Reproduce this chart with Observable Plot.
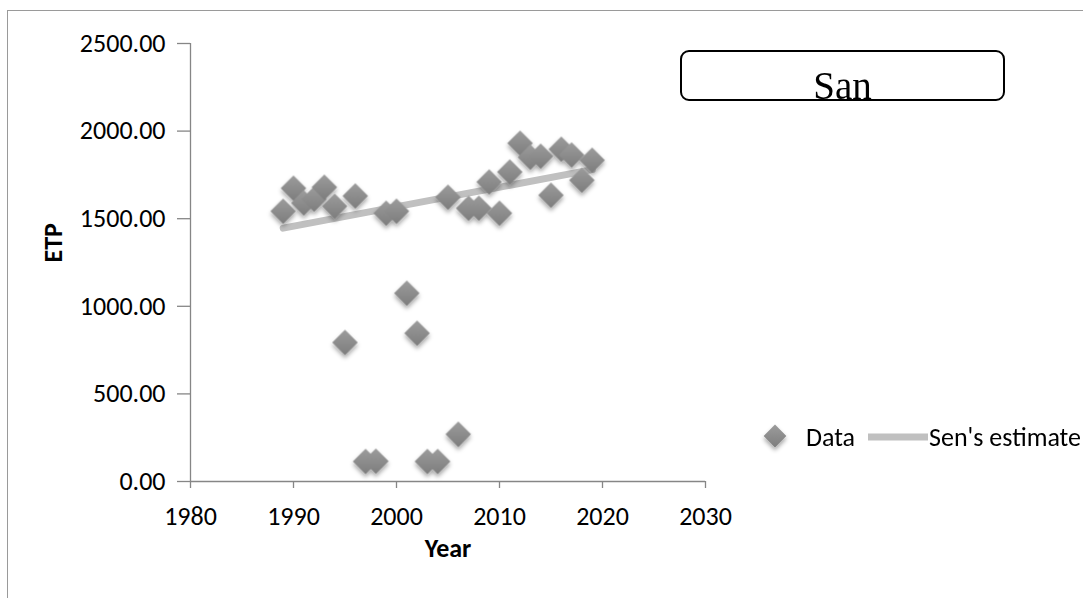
<!DOCTYPE html>
<html><head><meta charset="utf-8">
<script src="https://cdn.jsdelivr.net/npm/d3@7"></script>
<script src="https://cdn.jsdelivr.net/npm/@observablehq/plot@0.6"></script>
<style>
html,body{margin:0;padding:0;background:#fff;overflow:hidden;}
#wrap{position:relative;width:1083px;height:598px;overflow:hidden;}
#frame{position:absolute;left:7px;top:10px;width:1200px;height:800px;border:1px solid #9a9a9a;pointer-events:none;}
#wrap svg{position:absolute;left:0;top:0;}
</style>
</head><body>
<div id="wrap"><div id="frame"></div></div>
<script>
// ---- data ----
const years = [1989,1990,1991,1992,1993,1994,1995,1996,1997,1998,1999,2000,2001,2002,2003,2004,2005,2006,2007,2008,2009,2010,2011,2012,2013,2014,2015,2016,2017,2018,2019];
const etp   = [1543,1674,1589,1611,1680,1571,794,1629,114,115,1531,1543,1074,846,114,114,1623,269,1560,1560,1709,1531,1766,1931,1851,1857,1634,1897,1863,1720,1834];
const senYears  = [1989, 2019];
const senValues = [1446, 1780];
const xTicks = [1980,1990,2000,2010,2020,2030];
const yTicks = [0,500,1000,1500,2000,2500];
const titleText = "San";
const legendLabels = ["Data", "Sen's estimate"];
const xLabel = "Year";
const yLabel = "ETP";

const data = years.map((y,i)=>({year:y, etp:etp[i]}));
const sen = senYears.map((y,i)=>({year:y, v:senValues[i]}));
const FONT = "Carlito, Lato, sans-serif";

const chart = Plot.plot({
  width:1083, height:598,
  marginLeft:190, marginRight:378, marginTop:43, marginBottom:117,
  style:{fontFamily:FONT, fontSize:"26px", color:"#000", background:"transparent", overflow:"visible"},
  x:{domain:[1980,2030]},
  y:{domain:[0,2500]},
  marks:[
    () => {
      const s = d3.create("svg:g");
      const defs = s.append("defs");
      const g = defs.append("linearGradient").attr("id","dgrad").attr("x1",0).attr("y1",0).attr("x2",0).attr("y2",1);
      g.append("stop").attr("offset","0%").attr("stop-color","#9c9c9c");
      g.append("stop").attr("offset","100%").attr("stop-color","#7d7d7d");
      const f = defs.append("filter").attr("id","dshadow").attr("x","-50%").attr("y","-50%").attr("width","200%").attr("height","200%");
      f.append("feDropShadow").attr("dx",0).attr("dy",3).attr("stdDeviation",2).attr("flood-color","#000").attr("flood-opacity",0.35);
      return s.node();
    },
    Plot.ruleY([0], {stroke:"#868686", strokeWidth:1.3}),
    Plot.ruleX([1980], {stroke:"#868686", strokeWidth:1.3}),
    Plot.axisX({ticks:xTicks, tickSize:7, tickPadding:18, stroke:"#868686", strokeWidth:1.3, label:null, fontSize:26, tickFormat:d=>String(d)}),
    Plot.axisY({ticks:yTicks, tickSize:13, tickPadding:12, stroke:"#868686", strokeWidth:1.3, label:null, fontSize:26, tickFormat:d=>d.toFixed(2)}),
    Plot.line(sen, {x:"year", y:"v", stroke:"#c0c0c0", strokeWidth:7}),
    Plot.dot(data, {x:"year", y:"etp", symbol:"diamond2", r:11.5, fill:"url(#dgrad)", stroke:"none"}),
    Plot.text([yLabel], {text:d=>d, frameAnchor:"left", dx:-137, rotate:-90, fontWeight:"bold", fontSize:26}),
    Plot.text([xLabel], {text:d=>d, frameAnchor:"bottom", dy:75, fontWeight:"bold", fontSize:26})
  ]
});
const dotG = chart.querySelector('g[aria-label="dot"]');
if (dotG) dotG.setAttribute("filter","url(#dshadow)");
document.getElementById("wrap").appendChild(chart);

// overlay: title box and legend
const ov = d3.create("svg").attr("width",1083).attr("height",598);
ov.append("rect").attr("x",681).attr("y",51).attr("width",323).attr("height",49).attr("rx",8)
  .attr("fill","#fff").attr("stroke","#000").attr("stroke-width",2);
ov.append("text").attr("x",842.5).attr("y",99).attr("text-anchor","middle")
  .attr("font-family","'Liberation Serif', serif").attr("font-size",39).text(titleText);
const lg = ov.append("g").attr("font-family",FONT).attr("font-size",26);
lg.append("path").attr("transform","translate(775,436)").attr("d", d3.symbol(d3.symbolDiamond2, 330)())
  .attr("fill","url(#dgrad)").attr("filter","url(#dshadow)");
lg.append("text").attr("x",806).attr("y",446).text(legendLabels[0]);
lg.append("line").attr("x1",868).attr("x2",928).attr("y1",437).attr("y2",437).attr("stroke","#c0c0c0").attr("stroke-width",7);
lg.append("text").attr("x",929).attr("y",446).text(legendLabels[1]);
document.getElementById("wrap").appendChild(ov.node());
</script>
</body></html>
